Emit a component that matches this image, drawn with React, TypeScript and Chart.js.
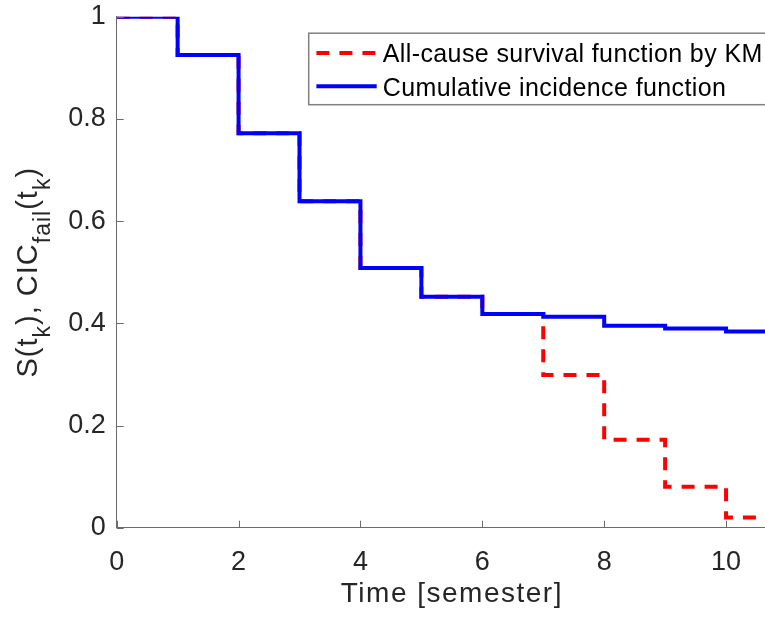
import React, { useEffect, useRef } from "react";
import { Chart, registerables } from "chart.js";

Chart.register(...registerables);

// ---- Data ----
const timePoints = [0, 1, 2, 3, 4, 5, 6, 7, 8, 9, 10, 11];
const survivalKM = [1, 0.925, 0.772, 0.639, 0.508, 0.452, 0.418, 0.299, 0.172, 0.08, 0.02, 0.02];
const cumulativeIncidence = [1, 0.925, 0.772, 0.639, 0.508, 0.452, 0.418, 0.413, 0.395, 0.39, 0.384, 0.384];
const xTickValues = [0, 2, 4, 6, 8, 10];
const xTickLabels = ["0", "2", "4", "6", "8", "10"];
const yTickValues = [0, 0.2, 0.4, 0.6, 0.8, 1];
const yTickLabels = ["0", "0.2", "0.4", "0.6", "0.8", "1"];
const seriesLabels = ["All-cause survival function by KM", "Cumulative incidence function"];
const xAxisTitle = "Time [semester]";
const yAxisTitleParts = [
  { text: "S(t", sub: false },
  { text: "k", sub: true },
  { text: "), CIC", sub: false },
  { text: "fail", sub: true },
  { text: "(t", sub: false },
  { text: "k", sub: true },
  { text: ")", sub: false },
];

const FONT = "'Liberation Sans', Arial, Helvetica, sans-serif";
const TEXT = "#262626";
const AXIS = "#6a6a6a";
const RED = "#ff0000";
const BLUE = "#0000ff";
const DASH = [13, 10];

export default function App() {
  const ref = useRef<HTMLCanvasElement>(null);

  useEffect(() => {
    const canvas = ref.current;
    if (!canvas) return;

    const decor = {
      id: "decor",
      afterDatasetsDraw(chart: any) {
        const ctx = chart.ctx as CanvasRenderingContext2D;
        const ca = chart.chartArea;
        const xs = chart.scales.x;
        const ys = chart.scales.y;
        ctx.save();
        // inward tick marks
        ctx.strokeStyle = AXIS;
        ctx.lineWidth = 1;
        ctx.beginPath();
        yTickValues.forEach((v) => {
          const py = Math.round(ys.getPixelForValue(v)) + 0.5;
          ctx.moveTo(ca.left, py);
          ctx.lineTo(ca.left + 7, py);
        });
        xTickValues.forEach((v) => {
          const px = Math.round(xs.getPixelForValue(v)) + 0.5;
          ctx.moveTo(px, ca.bottom);
          ctx.lineTo(px, ca.bottom - 7);
        });
        ctx.stroke();

        // legend box
        const lx = ca.left + 192;
        const ly = ca.top + 16.5;
        const lw = 465;
        const lh = 71.5;
        ctx.fillStyle = "#ffffff";
        ctx.fillRect(lx, ly, lw, lh);
        ctx.strokeStyle = "#808080";
        ctx.lineWidth = 1.5;
        ctx.strokeRect(lx, ly, lw, lh);

        const rows = [
          { color: RED, dash: DASH, label: seriesLabels[0], y: ly + 19.7 },
          { color: BLUE, dash: [] as number[], label: seriesLabels[1], y: ly + 53 },
        ];
        rows.forEach((r) => {
          ctx.beginPath();
          ctx.strokeStyle = r.color;
          ctx.lineWidth = 4;
          ctx.setLineDash(r.dash);
          ctx.moveTo(lx + 7.7, r.y);
          ctx.lineTo(lx + 68, r.y);
          ctx.stroke();
          ctx.setLineDash([]);
          ctx.fillStyle = "#000000";
          ctx.font = `25px ${FONT}`;
          (ctx as any).letterSpacing = "0.4px";
          ctx.textAlign = "left";
          ctx.textBaseline = "alphabetic";
          ctx.fillText(r.label, lx + 74, r.y + 9.5);
          (ctx as any).letterSpacing = "0px";
        });
        ctx.restore();
      },
      afterDraw(chart: any) {
        const ctx = chart.ctx as CanvasRenderingContext2D;
        const ca = chart.chartArea;
        ctx.save();
        ctx.fillStyle = TEXT;
        // x axis title
        ctx.font = `28px ${FONT}`;
        (ctx as any).letterSpacing = "1.5px";
        ctx.textAlign = "center";
        ctx.textBaseline = "alphabetic";
        ctx.fillText(xAxisTitle, (ca.left + ca.right) / 2, ca.bottom + 74);

        // y axis title with subscripts
        const mainSize = 29;
        const subSize = 23;
        (ctx as any).letterSpacing = "1px";
        let total = 0;
        const widths = yAxisTitleParts.map((p) => {
          ctx.font = `${p.sub ? subSize : mainSize}px ${FONT}`;
          const w = ctx.measureText(p.text).width;
          total += w;
          return w;
        });
        ctx.translate(37, (ca.top + ca.bottom) / 2);
        ctx.rotate(-Math.PI / 2);
        ctx.textAlign = "left";
        let x = -total / 2;
        yAxisTitleParts.forEach((p, i) => {
          ctx.font = `${p.sub ? subSize : mainSize}px ${FONT}`;
          ctx.fillText(p.text, x, p.sub ? 13 : 0);
          x += widths[i];
        });
        (ctx as any).letterSpacing = "0px";
        ctx.restore();
      },
    };

    const toPoints = (vals: number[]) => timePoints.map((t, i) => ({ x: t, y: vals[i] }));

    const chart = new Chart(canvas, {
      type: "line",
      data: {
        datasets: [
          {
            label: seriesLabels[1],
            data: toPoints(cumulativeIncidence),
            borderColor: BLUE,
            backgroundColor: BLUE,
            borderWidth: 4,
            stepped: "before",
            pointRadius: 0,
            fill: false,
            order: 0,
          },
          {
            label: seriesLabels[0],
            data: toPoints(survivalKM),
            borderColor: RED,
            backgroundColor: RED,
            borderWidth: 4,
            borderDash: DASH,
            stepped: "before",
            pointRadius: 0,
            fill: false,
            order: 1,
          },
        ],
      },
      options: {
        responsive: false,
        animation: false,
        devicePixelRatio: 1,
        events: [],
        layout: { padding: { top: 16.7, right: 13, left: 0, bottom: 0 } },
        plugins: { legend: { display: false }, tooltip: { enabled: false } },
        scales: {
          x: {
            type: "linear",
            min: 0,
            max: 11,
            afterBuildTicks: (s: any) => {
              s.ticks = xTickValues.map((v) => ({ value: v }));
            },
            afterFit: (s: any) => {
              s.height = 89.3;
              s.paddingLeft = 0;
              s.paddingRight = 0;
            },
            grid: { display: true, drawOnChartArea: false, drawTicks: false },
            border: { display: true, color: AXIS, width: 1 },
            ticks: {
              color: TEXT,
              font: { family: FONT, size: 27 },
              padding: 19,
              maxRotation: 0,
              autoSkip: false,
              callback: (_v: any, i: number) => xTickLabels[i],
            },
          },
          y: {
            type: "linear",
            min: 0,
            max: 1,
            afterBuildTicks: (s: any) => {
              s.ticks = yTickValues.map((v) => ({ value: v }));
            },
            afterFit: (s: any) => {
              s.width = 116.7;
              s.paddingTop = 0;
              s.paddingBottom = 0;
            },
            grid: { display: true, drawOnChartArea: false, drawTicks: false },
            border: { display: true, color: AXIS, width: 1 },
            ticks: {
              color: TEXT,
              font: { family: FONT, size: 27 },
              padding: 11,
              autoSkip: false,
              callback: (_v: any, i: number) => yTickLabels[i],
            },
          },
        },
      },
      plugins: [decor],
    } as any);

    return () => chart.destroy();
  }, []);

  return (
    <div
      style={{
        position: "fixed",
        left: 0,
        top: 0,
        width: 765,
        height: 617,
        overflow: "hidden",
        background: "#ffffff",
      }}
    >
      <canvas ref={ref} width={800} height={617} style={{ display: "block" }} />
    </div>
  );
}
